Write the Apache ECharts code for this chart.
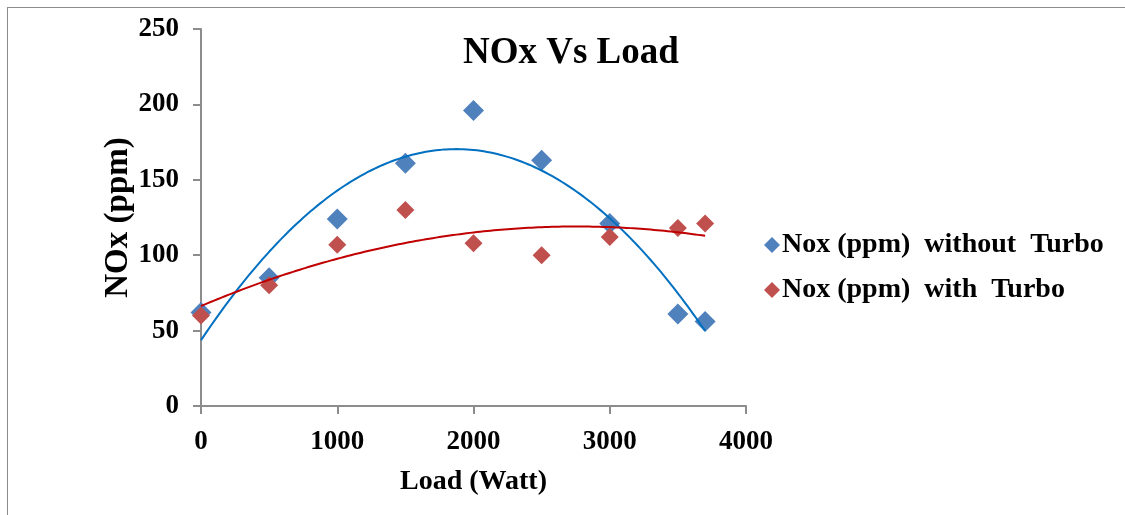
<!DOCTYPE html>
<html>
<head>
<meta charset="utf-8">
<script src="https://cdn.jsdelivr.net/npm/echarts@6/dist/echarts.min.js"></script>
<style>
html,body{margin:0;padding:0;background:#fff;}
#frame{position:absolute;left:7px;top:7px;width:1130px;height:520px;border:1.5px solid #8c8c8c;box-sizing:border-box;}
#chart{position:absolute;left:0;top:0;width:1125px;height:515px;}
</style>
</head>
<body>
<div id="frame"></div>
<div id="chart"></div>
<script>
const loads = [0, 500, 1000, 1500, 2000, 2500, 3000, 3500, 3700];
const noxWithoutTurbo = [62, 85, 124, 161, 196, 163, 121, 61, 56];
const noxWithTurbo = [60, 80, 107, 130, 108, 100, 112, 118, 121];
const seriesNames = ['Nox (ppm)  without  Turbo', 'Nox (ppm)  with  Turbo'];
const xTicks = [0, 1000, 2000, 3000, 4000];
const yTicks = [0, 50, 100, 150, 200, 250];

// quadratic least-squares trendline (as the spreadsheet's polynomial trendline)
function polyFit2(xs, ys) {
  let n = xs.length, S = [0,0,0,0,0], T = [0,0,0];
  for (let i = 0; i < n; i++) {
    const x = xs[i] / 1000, y = ys[i];
    for (let k = 0; k < 5; k++) S[k] += Math.pow(x, k);
    for (let k = 0; k < 3; k++) T[k] += y * Math.pow(x, k);
  }
  const A = [[S[0],S[1],S[2],T[0]],[S[1],S[2],S[3],T[1]],[S[2],S[3],S[4],T[2]]];
  for (let c = 0; c < 3; c++) {
    for (let r = c + 1; r < 3; r++) {
      const f = A[r][c] / A[c][c];
      for (let k = c; k < 4; k++) A[r][k] -= f * A[c][k];
    }
  }
  const b = [0,0,0];
  for (let r = 2; r >= 0; r--) {
    let s = A[r][3];
    for (let k = r + 1; k < 3; k++) s -= A[r][k] * b[k];
    b[r] = s / A[r][r];
  }
  return x => b[0] + b[1] * (x/1000) + b[2] * (x/1000) * (x/1000);
}
function trend(xs, ys) {
  const f = polyFit2(xs, ys);
  const lo = xs[0], hi = xs[xs.length - 1], out = [];
  for (let x = lo; x <= hi; x += 25) out.push([x, f(x)]);
  return out;
}

const font = '"Liberation Serif","Times New Roman",serif';
const chart = echarts.init(document.getElementById('chart'));
chart.setOption({
  animation: false,
  backgroundColor: 'transparent',
  title: {
    text: 'NOx Vs Load', left: 458, top: 30,
    textStyle: { fontFamily: font, fontWeight: 'bold', fontSize: 37, color: '#000' }
  },
  legend: {
    orient: 'vertical', left: 759, top: 226, itemGap: 17,
    itemWidth: 16, itemHeight: 16, icon: 'diamond',
    data: seriesNames,
    textStyle: { fontFamily: font, fontWeight: 'bold', fontSize: 28, color: '#000', padding: [0,0,0,-3] }
  },
  grid: { left: 201, right: 379, top: 29, bottom: 109, containLabel: false },
  xAxis: {
    type: 'value', min: 0, max: 4000, interval: 1000,
    name: 'Load (Watt)', nameLocation: 'middle', nameGap: 62,
    nameTextStyle: { fontFamily: font, fontWeight: 'bold', fontSize: 28, color: '#000' },
    axisLine: { show: true, lineStyle: { color: '#8c8c8c', width: 2 } },
    axisTick: { show: true, length: 8, lineStyle: { color: '#8c8c8c', width: 2 } },
    axisLabel: { margin: 23, fontFamily: font, fontWeight: 'bold', fontSize: 27, color: '#000',
      formatter: v => xTicks.includes(v) ? String(v) : '' },
    splitLine: { show: false }
  },
  yAxis: {
    type: 'value', min: 0, max: 250, interval: 50,
    name: 'NOx (ppm)', nameLocation: 'middle', nameGap: 66, nameRotate: 90,
    nameTextStyle: { fontFamily: font, fontWeight: 'bold', fontSize: 33, color: '#000' },
    axisLine: { show: true, lineStyle: { color: '#8c8c8c', width: 2 } },
    axisTick: { show: true, length: 8, lineStyle: { color: '#8c8c8c', width: 2 } },
    axisLabel: { margin: 22, fontFamily: font, fontWeight: 'bold', fontSize: 27, color: '#000',
      formatter: v => yTicks.includes(v) ? String(v) : '' },
    splitLine: { show: false }
  },
  series: [
    {
      name: seriesNames[0] + ' trend', type: 'line', showSymbol: false, smooth: false,
      data: trend(loads, noxWithoutTurbo), z: 3,
      lineStyle: { color: '#0070C0', width: 2 }, itemStyle: { color: '#0070C0' }, silent: true
    },
    {
      name: seriesNames[1] + ' trend', type: 'line', showSymbol: false, smooth: false,
      data: trend(loads, noxWithTurbo), z: 3,
      lineStyle: { color: '#C00000', width: 2 }, itemStyle: { color: '#C00000' }, silent: true
    },
    {
      name: seriesNames[0], type: 'scatter', symbol: 'diamond', symbolSize: 21,
      data: loads.map((x, i) => [x, noxWithoutTurbo[i]]), z: 2,
      itemStyle: { color: '#4F81BD', opacity: 1 }
    },
    {
      name: seriesNames[1], type: 'scatter', symbol: 'diamond', symbolSize: 18,
      data: loads.map((x, i) => [x, noxWithTurbo[i]]), z: 2,
      itemStyle: { color: '#C0504D', opacity: 1 }
    }
  ]
});
</script>
</body>
</html>
